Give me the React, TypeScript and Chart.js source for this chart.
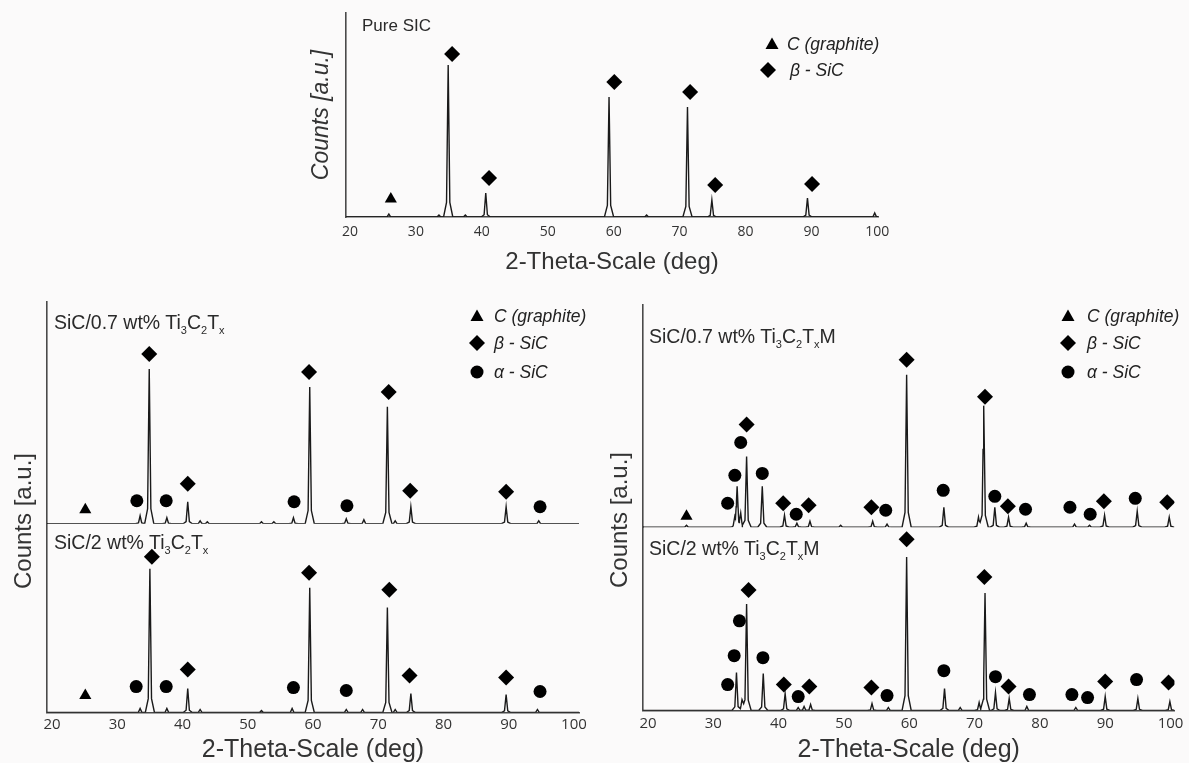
import React, { useEffect, useRef } from 'react';
import { Chart, registerables } from 'chart.js';

Chart.register(...registerables);

// ---------- shared ----------
const xTicks = [20, 30, 40, 50, 60, 70, 80, 90, 100];
const axisTitleX = '2-Theta-Scale (deg)';
const axisTitleY = 'Counts [a.u.]';

// ---------- Pure SiC (top) ----------
const pureX = [25.9, 33.5, 34.9, 37.5, 40.6, 59.3, 65.0, 71.2, 74.9, 89.4, 99.6];
const pureY = [3, 2, 152, 2, 24, 120, 2, 110, 17, 19, 4];
const pureGraphiteX = [26.2];
const pureGraphiteY = [18];
const pureBetaX = [35.5, 41.1, 60.1, 71.6, 75.4, 90.1];
const pureBetaY = [163, 39, 135, 125, 32, 33];

// ---------- SiC/0.7 wt% Ti3C2Tx ----------
const t07X = [33.5, 34.9, 37.6, 40.8, 42.7, 43.8, 52.1, 54.0, 57.0, 59.5, 65.1, 67.8, 71.4, 72.6, 75.0, 89.6, 94.6];
const t07Y = [8, 155, 6, 22, 3, 2, 2, 2, 6, 137, 5, 4, 117, 3, 17, 17, 3];
const t07GraphiteX = [25.1];
const t07GraphiteY = [14];
const t07BetaX = [34.9, 40.8, 59.4, 71.6, 74.9, 89.6];
const t07BetaY = [170, 40, 152, 132, 33, 32];
const t07AlphaX = [33.0, 37.5, 57.1, 65.2, 94.8];
const t07AlphaY = [23, 23, 22, 18, 17];

// ---------- SiC/2 wt% Ti3C2Tx ----------
const t2X = [33.5, 35.0, 37.6, 40.8, 42.7, 52.1, 56.8, 59.5, 65.1, 67.6, 71.4, 72.6, 75.0, 89.6, 94.4];
const t2Y = [4, 144, 4, 24, 3, 2, 4, 125, 3, 3, 105, 3, 19, 18, 3];
const t2GraphiteX = [25.1];
const t2GraphiteY = [17];
const t2BetaX = [35.3, 40.8, 59.4, 71.7, 74.8, 89.6];
const t2BetaY = [156, 43, 140, 123, 37, 35];
const t2AlphaX = [32.9, 37.5, 57.0, 65.1, 94.8];
const t2AlphaY = [26, 26, 25, 22, 21];

// ---------- SiC/0.7 wt% Ti3C2TxM ----------
const m07X = [25.9, 33.3, 33.65, 34.2, 35.1, 37.5, 40.9, 42.8, 44.8, 49.5, 54.4, 56.6, 59.6, 65.3, 70.6, 71.4, 73.1, 75.2, 77.9, 85.3, 87.6, 89.9, 94.9, 99.8];
const m07Y = [2, 8, 40, 13, 71, 41, 12, 4, 6, 2, 6, 3, 153, 20, 10, 122, 20, 10, 4, 3, 2, 12, 16, 10];
const m07GraphiteX = [25.9];
const m07GraphiteY = [11];
const m07BetaX = [35.1, 40.7, 44.6, 54.2, 59.6, 71.6, 75.1, 89.8, 99.5];
const m07BetaY = [103, 24, 22, 20, 168, 131, 21, 26, 25];
const m07AlphaX = [32.2, 33.3, 34.2, 37.5, 42.7, 56.4, 65.2, 73.1, 77.8, 84.6, 87.7, 94.6];
const m07AlphaY = [24, 52, 85, 54, 13, 17, 37, 31, 18, 20, 13, 29];

// ---------- SiC/2 wt% Ti3C2TxM ----------
const m2X = [33.55, 34.4, 35.1, 37.65, 41.0, 43.0, 43.9, 44.9, 54.3, 56.8, 59.6, 65.4, 67.8, 70.7, 71.6, 73.2, 75.3, 78.0, 85.5, 90.0, 95.0, 99.9];
const m2Y = [38, 11, 107, 37, 17, 3, 4, 6, 7, 3, 154, 22, 3, 8, 118, 18, 12, 4, 3, 14, 12, 9];
const m2BetaX = [35.4, 40.8, 44.7, 54.2, 59.6, 71.5, 75.2, 90.0, 99.7];
const m2BetaY = [121, 26, 24, 23, 172, 134, 24, 29, 28];
const m2AlphaX = [32.2, 33.2, 34.0, 37.6, 43.0, 56.6, 65.3, 73.2, 78.4, 84.9, 87.3, 94.8];
const m2AlphaY = [26, 55, 90, 53, 14, 15, 40, 34, 16, 16, 13, 31];

// ---------- helpers ----------
const INK = '#1a1a1a';
const TEXT = '#333333';
const AXIS = '#4a4a4a';

// polyline table for the line dataset: each read peak drawn as a narrow profile
function profile(px: number[], py: number[], xmin: number, xmax: number) {
  const comps: { p: number; h: number; w: number }[] = [];
  px.forEach((p, i) => {
    comps.push({ p, h: py[i] * 0.85, w: 0.25 });
    comps.push({ p, h: py[i] * 0.15, w: 0.7 });
  });
  const set = new Set<number>([xmin, xmax]);
  comps.forEach((c) => {
    set.add(c.p - c.w);
    set.add(c.p);
    set.add(c.p + c.w);
  });
  const xs = Array.from(set)
    .filter((x) => x >= xmin && x <= xmax)
    .sort((a, b) => a - b);
  return xs.map((x) => ({
    x,
    y: comps.reduce((s, c) => s + Math.max(0, c.h * (1 - Math.abs(x - c.p) / c.w)), 0),
  }));
}

function pts(xs: number[], ys: number[]) {
  return xs.map((x, i) => ({ x, y: ys[i] }));
}

function lineDs(px: number[], py: number[], xmin: number, xmax: number, yAxisID: string) {
  return {
    type: 'line',
    data: profile(px, py, xmin, xmax),
    borderColor: INK,
    borderWidth: 1.4,
    pointRadius: 0,
    tension: 0,
    fill: false,
    yAxisID,
    order: 2,
  };
}

function markDs(xs: number[], ys: number[], style: string, radius: number, yAxisID: string) {
  return {
    type: 'scatter',
    data: pts(xs, ys),
    pointStyle: style,
    pointRadius: radius,
    backgroundColor: '#000',
    borderColor: '#000',
    borderWidth: 0,
    yAxisID,
    order: 1,
  };
}

const TRI = 7;
const DIA = 8;
const CIR = 6.5;

function xScale(min: number, max: number, tickSize: number, tickPad: number, titleSize: number, titlePad: number) {
  return {
    type: 'linear',
    position: 'bottom',
    min,
    max,
    afterBuildTicks: (scale: any) => {
      scale.ticks = xTicks.map((v) => ({ value: v }));
    },
    grid: { display: false, drawTicks: false },
    border: { display: true, color: AXIS, width: 1.6 },
    ticks: {
      autoSkip: false,
      maxRotation: 0,
      padding: tickPad,
      color: TEXT,
      font: { family: '"Open Sans", "DejaVu Sans", sans-serif', size: tickSize, lineHeight: 1 },
    },
    title: {
      display: true,
      text: axisTitleX,
      color: TEXT,
      padding: { top: titlePad, bottom: 0 },
      font: { family: '"Liberation Sans", Arial, sans-serif', size: titleSize, lineHeight: 1 },
    },
  };
}

function stackY(max: number) {
  return {
    type: 'linear',
    position: 'left',
    stack: 'panel',
    stackWeight: max,
    min: 0,
    max,
    grid: { display: false, drawTicks: false },
    ticks: { display: false },
    border: { display: true, color: AXIS, width: 1.6 },
  };
}

const baseOptions = {
  animation: false,
  responsive: false,
  devicePixelRatio: 1,
  events: [],
  plugins: { legend: { display: false }, tooltip: { enabled: false } },
};

function topConfig() {
  const xmin = 19.4;
  const xmax = 100.1;
  return {
    type: 'line',
    data: {
      datasets: [
        lineDs(pureX, pureY, xmin, xmax, 'y'),
        markDs(pureGraphiteX, pureGraphiteY, 'triangle', TRI, 'y'),
        markDs(pureBetaX, pureBetaY, 'rectRot', DIA, 'y'),
      ],
    },
    options: {
      ...baseOptions,
      layout: { padding: { left: 0, top: 13, right: 22, bottom: 11 } },
      scales: {
        x: xScale(xmin, xmax, 14, 8, 24, 3),
        y: {
          type: 'linear',
          position: 'left',
          min: 0,
          max: 204,
          grid: { display: false, drawTicks: false },
          ticks: { display: false },
          border: { display: true, color: AXIS, width: 1.6 },
          title: {
            display: true,
            text: axisTitleY,
            color: TEXT,
            padding: { top: 20.5, bottom: 12.5 },
            font: { family: '"Liberation Sans", Arial, sans-serif', size: 23, style: 'italic', lineHeight: 1 },
          },
        },
      },
    },
  };
}

function leftConfig() {
  const xmin = 19.23;
  const xmax = 100.77;
  return {
    type: 'line',
    data: {
      datasets: [
        lineDs(t07X, t07Y, xmin, xmax, 'yUp'),
        markDs(t07GraphiteX, t07GraphiteY, 'triangle', TRI, 'yUp'),
        markDs(t07BetaX, t07BetaY, 'rectRot', DIA, 'yUp'),
        markDs(t07AlphaX, t07AlphaY, 'circle', CIR, 'yUp'),
        lineDs(t2X, t2Y, xmin, xmax, 'yLow'),
        markDs(t2GraphiteX, t2GraphiteY, 'triangle', TRI, 'yLow'),
        markDs(t2BetaX, t2BetaY, 'rectRot', DIA, 'yLow'),
        markDs(t2AlphaX, t2AlphaY, 'circle', CIR, 'yLow'),
      ],
    },
    options: {
      ...baseOptions,
      layout: { padding: { left: 47, top: 12, right: 21, bottom: 0.5 } },
      scales: {
        x: xScale(xmin, xmax, 15, 5, 25, 0),
        yLow: stackY(189),
        yUp: stackY(222),
      },
    },
  };
}

function rightConfig() {
  const xmin = 19.24;
  const xmax = 100.6;
  return {
    type: 'line',
    data: {
      datasets: [
        lineDs(m07X, m07Y, xmin, xmax, 'yUp'),
        markDs(m07GraphiteX, m07GraphiteY, 'triangle', TRI, 'yUp'),
        markDs(m07BetaX, m07BetaY, 'rectRot', DIA, 'yUp'),
        markDs(m07AlphaX, m07AlphaY, 'circle', CIR, 'yUp'),
        lineDs(m2X, m2Y, xmin, xmax, 'yLow'),
        markDs(m2BetaX, m2BetaY, 'rectRot', DIA, 'yLow'),
        markDs(m2AlphaX, m2AlphaY, 'circle', CIR, 'yLow'),
      ],
    },
    options: {
      ...baseOptions,
      layout: { padding: { left: 48, top: 15, right: 14, bottom: 0.5 } },
      scales: {
        x: xScale(xmin, xmax, 15, 5.5, 25, 1),
        yLow: stackY(184),
        yUp: stackY(223),
      },
    },
  };
}

function ChartBox(props: { left: number; top: number; width: number; height: number; make: () => any }) {
  const ref = useRef<HTMLCanvasElement | null>(null);
  useEffect(() => {
    const chart = new Chart(ref.current as HTMLCanvasElement, props.make());
    return () => chart.destroy();
  }, []);
  return (
    <canvas
      ref={ref}
      width={props.width}
      height={props.height}
      style={{ position: 'absolute', left: props.left, top: props.top, width: props.width, height: props.height }}
    />
  );
}

function Marker({ shape }: { shape: 'tri' | 'dia' | 'cir' }) {
  if (shape === 'tri')
    return (
      <svg width="16" height="16" viewBox="0 0 16 16" style={{ display: 'block' }}>
        <polygon points="8,1.5 14.5,13 1.5,13" fill="#000" />
      </svg>
    );
  if (shape === 'dia')
    return (
      <svg width="16" height="16" viewBox="0 0 16 16" style={{ display: 'block' }}>
        <polygon points="8,0 16,8 8,16 0,8" fill="#000" />
      </svg>
    );
  return (
    <svg width="16" height="16" viewBox="0 0 16 16" style={{ display: 'block' }}>
      <circle cx="8" cy="8" r="6.5" fill="#000" />
    </svg>
  );
}

function LegendRow(props: { x: number; y: number; textX: number; shape: 'tri' | 'dia' | 'cir'; children: any }) {
  return (
    <>
      <div style={{ position: 'absolute', left: props.x - 8, top: props.y - 8 }}>
        <Marker shape={props.shape} />
      </div>
      <div
        style={{
          position: 'absolute',
          left: props.textX,
          top: props.y - 11,
          height: 22,
          lineHeight: '22px',
          fontSize: 17.5,
          fontStyle: 'italic',
          color: '#222',
          whiteSpace: 'nowrap',
        }}
      >
        {props.children}
      </div>
    </>
  );
}

const subStyle: React.CSSProperties = { fontSize: 11, position: 'relative', top: 5 };

function SampleLabel(props: { x: number; y: number; size: number; children: any }) {
  return (
    <div
      style={{
        position: 'absolute',
        left: props.x,
        top: props.y - 12,
        height: 24,
        lineHeight: '24px',
        fontSize: props.size,
        color: '#2a2a2a',
        whiteSpace: 'nowrap',
      }}
    >
      {props.children}
    </div>
  );
}

function YTitle(props: { cx: number; cy: number }) {
  return (
    <div
      style={{
        position: 'absolute',
        left: props.cx - 100,
        top: props.cy - 14,
        width: 200,
        height: 28,
        lineHeight: '28px',
        textAlign: 'center',
        fontSize: 24,
        color: TEXT,
        transform: 'rotate(-90deg)',
        whiteSpace: 'nowrap',
      }}
    >
      {axisTitleY}
    </div>
  );
}

export default function App() {
  return (
    <div
      style={{
        position: 'absolute',
        left: 0,
        top: 0,
        width: 1189,
        height: 763,
        overflow: 'hidden',
        background: '#fbfafa',
        fontFamily: '"Liberation Sans", Arial, sans-serif',
      }}
    >
      <ChartBox left={290} top={0} width={610} height={285} make={topConfig} />
      <ChartBox left={0} top={290} width={600} height={473} make={leftConfig} />
      <ChartBox left={595} top={290} width={594} height={473} make={rightConfig} />

      {/* top panel texts */}
      <SampleLabel x={362} y={26} size={17}>Pure SIC</SampleLabel>
      <LegendRow x={772} y={44} textX={787} shape="tri">C (graphite)</LegendRow>
      <LegendRow x={768} y={70} textX={790} shape="dia">β - SiC</LegendRow>

      {/* bottom-left panel texts */}
      <YTitle cx={23} cy={521} />
      <SampleLabel x={54} y={322} size={19.5}>
        SiC/0.7 wt% Ti<span style={subStyle}>3</span>C<span style={subStyle}>2</span>T<span style={subStyle}>x</span>
      </SampleLabel>
      <SampleLabel x={54} y={542} size={19.5}>
        SiC/2 wt% Ti<span style={subStyle}>3</span>C<span style={subStyle}>2</span>T<span style={subStyle}>x</span>
      </SampleLabel>
      <LegendRow x={477} y={316} textX={494} shape="tri">C (graphite)</LegendRow>
      <LegendRow x={477} y={343} textX={494} shape="dia">β - SiC</LegendRow>
      <LegendRow x={477} y={372} textX={494} shape="cir">α - SiC</LegendRow>

      {/* bottom-right panel texts */}
      <YTitle cx={619} cy={520} />
      <SampleLabel x={649} y={336} size={19.5}>
        SiC/0.7 wt% Ti<span style={subStyle}>3</span>C<span style={subStyle}>2</span>T<span style={subStyle}>x</span>M
      </SampleLabel>
      <SampleLabel x={649} y={548} size={19.5}>
        SiC/2 wt% Ti<span style={subStyle}>3</span>C<span style={subStyle}>2</span>T<span style={subStyle}>x</span>M
      </SampleLabel>
      <LegendRow x={1068} y={316} textX={1087} shape="tri">C (graphite)</LegendRow>
      <LegendRow x={1068} y={343} textX={1087} shape="dia">β - SiC</LegendRow>
      <LegendRow x={1068} y={372} textX={1087} shape="cir">α - SiC</LegendRow>
    </div>
  );
}
